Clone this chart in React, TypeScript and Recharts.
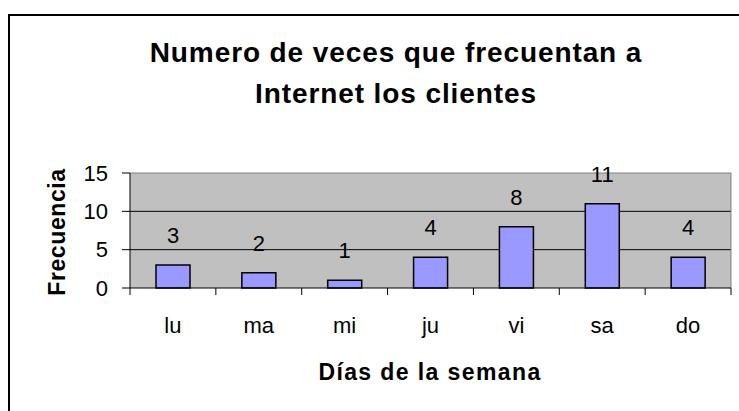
import React from 'react';
import { BarChart, Bar, XAxis, YAxis, CartesianGrid, LabelList } from 'recharts';

const dias = ['lu', 'ma', 'mi', 'ju', 'vi', 'sa', 'do'];
const frecuencia = [3, 2, 1, 4, 8, 11, 4];
const yTicks = [0, 5, 10, 15];

const data = dias.map((d, i) => ({ dia: d, frecuencia: frecuencia[i] }));

const font = '"Liberation Sans", Arial, sans-serif';

const DayTick = (props: any) => {
  const { x, y, payload, width, visibleTicksCount, index } = props;
  const band = width / visibleTicksCount;
  const top = y - 8;
  return (
    <g>
      <line x1={x - band / 2} y1={top} x2={x - band / 2} y2={top + 7} stroke="#000" />
      {index === visibleTicksCount - 1 && (
        <line x1={x + band / 2} y1={top} x2={x + band / 2} y2={top + 7} stroke="#000" />
      )}
      <text x={x} y={y + 37} textAnchor="middle" fontSize={22} fontFamily={font} fill="#000">
        {payload.value}
      </text>
    </g>
  );
};

export default function App() {
  return (
    <div style={{ position: 'absolute', left: 0, top: 0, width: 739, height: 411, overflow: 'hidden', background: '#fff', fontFamily: font }}>
      <div style={{ position: 'absolute', left: 8, top: 14, width: 900, height: 600, borderLeft: '2px solid #000', borderTop: '2px solid #000' }} />
      <div style={{ position: 'absolute', left: 96, width: 600, top: 32, textAlign: 'center', fontSize: 28, fontWeight: 'bold', lineHeight: '41px', letterSpacing: '0.9px' }}>
        Numero de veces que frecuentan a<br />Internet los clientes
      </div>
      <div style={{ position: 'absolute', left: 57, top: 232, transform: 'translate(-50%, -50%) rotate(-90deg)', fontSize: 23, fontWeight: 'bold', whiteSpace: 'nowrap', letterSpacing: '0.6px' }}>
        Frecuencia
      </div>
      <div style={{ position: 'absolute', left: 430, top: 372, transform: 'translate(-50%, -50%)', fontSize: 23, fontWeight: 'bold', whiteSpace: 'nowrap', letterSpacing: '1.4px' }}>
        Días de la semana
      </div>
      <BarChart
        width={739}
        height={411}
        data={data}
        margin={{ top: 173, right: 8, left: 70, bottom: 83 }}
        barSize={34}
        style={{ position: 'absolute', left: 0, top: 0 }}
      >
        <CartesianGrid fill="#C0C0C0" vertical={false} horizontalValues={[5, 10]} stroke="#000" strokeOpacity={1} />
        <CartesianGrid
          horizontalValues={[15]}
          stroke="#808080"
          verticalCoordinatesGenerator={(p: any) => [p.offset.left + p.offset.width]}
        />
        <XAxis
          dataKey="dia"
          stroke="#000"
          tickLine={false}
          height={40}
          interval={0}
          tick={<DayTick />}
        />
        <YAxis
          domain={[0, 15]}
          ticks={yTicks}
          width={60}
          stroke="#000"
          tickSize={8}
          tickMargin={14}
          tick={{ fontSize: 22, fontFamily: font, fill: '#000' }}
        />
        <Bar dataKey="frecuencia" fill="#9999FF" stroke="#000" strokeWidth={1.5} isAnimationActive={false}>
          <LabelList dataKey="frecuencia" position="top" offset={22} fontSize={22} fontFamily={font} fill="#000" />
        </Bar>
      </BarChart>
    </div>
  );
}
